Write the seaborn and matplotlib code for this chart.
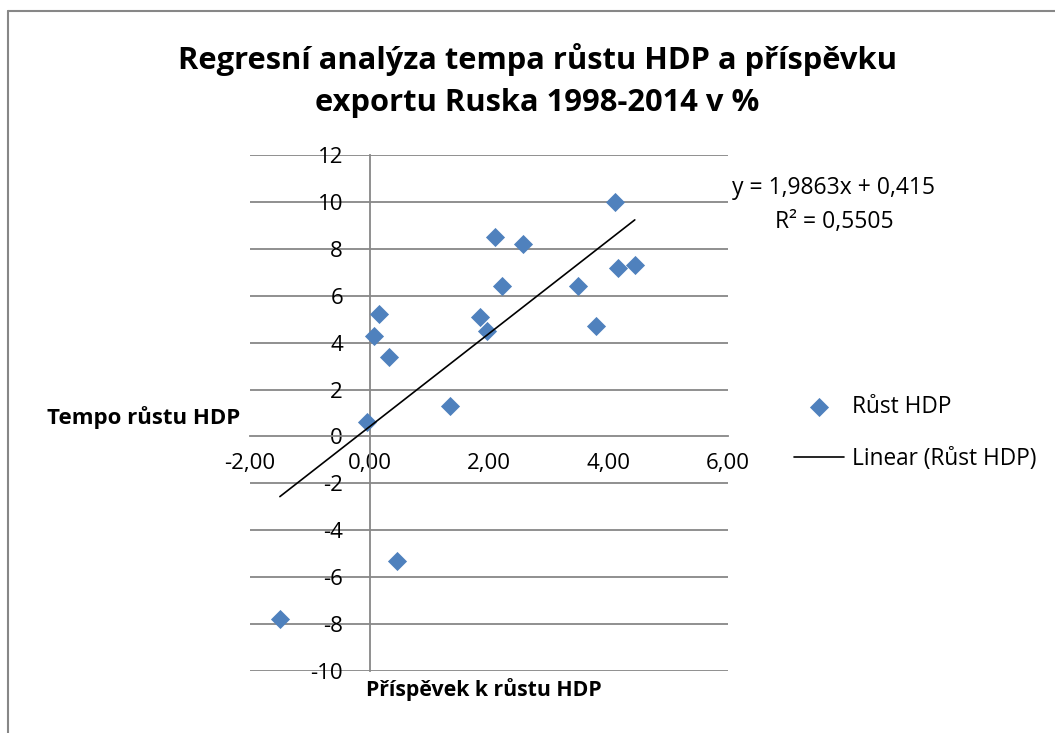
import numpy as np
import pandas as pd
import matplotlib
matplotlib.use("Agg")
import matplotlib.pyplot as plt
import seaborn as sns
from matplotlib.ticker import FuncFormatter

# data (17 years, 1998-2014)
prispevek = [-1.50, -0.04, 0.08, 0.16, 0.33, 0.46, 1.35, 1.85, 1.97,
             2.10, 2.22, 2.57, 3.49, 3.79, 4.11, 4.16, 4.44]
rust_hdp = [-7.8, 0.6, 4.3, 5.2, 3.4, -5.3, 1.3, 5.1, 4.5,
            8.5, 6.4, 8.2, 6.4, 4.7, 10.0, 7.2, 7.3]
slope = 1.9863
intercept = 0.415
r2 = 0.5505

x_ticks = [-2, 0, 2, 4, 6]
y_ticks = list(range(-10, 13, 2))

df = pd.DataFrame({"x": prispevek, "y": rust_hdp})
trend = pd.DataFrame({"x": [min(prispevek), max(prispevek)]})
trend["y"] = slope * trend["x"] + intercept

sns.set_style("white")
plt.rcParams["font.family"] = ["Open Sans", "DejaVu Sans"]
plt.rcParams["axes.unicode_minus"] = False
plt.rcParams["text.color"] = "black"

grey = "#878787"
blue = "#4F81BD"

fig = plt.figure(figsize=(10.55, 7.33), dpi=100)
ax = fig.add_axes([250 / 1055, 62 / 733, 478 / 1055, 516 / 733])

for v in y_ticks:
    if v != 0:
        ax.axhline(v, color=grey, lw=1.3, zorder=0)

sns.scatterplot(data=df, x="x", y="y", marker="D", s=95, color=blue,
                edgecolor=blue, linewidth=0, ax=ax, label="Růst HDP", zorder=3)
sns.lineplot(data=trend, x="x", y="y", color="black", lw=1.2, ax=ax,
             label="Linear (Růst HDP)", zorder=4)

ax.set_xlim(-2, 6)
ax.set_ylim(-10, 12)
ax.set_xticks(x_ticks)
ax.set_yticks(y_ticks)
ax.xaxis.set_major_formatter(FuncFormatter(lambda v, p: f"{v:.2f}".replace(".", ",")))
ax.yaxis.set_major_formatter(FuncFormatter(lambda v, p: f"{int(v)}"))

ax.spines["left"].set_position(("data", 0))
ax.spines["bottom"].set_position(("data", 0))
ax.spines["top"].set_visible(False)
ax.spines["right"].set_visible(False)
for s in ["left", "bottom"]:
    ax.spines[s].set_color(grey)
    ax.spines[s].set_linewidth(1.3)
ax.tick_params(axis="x", direction="out", length=6, width=1.3, color=grey,
               pad=6, labelsize=16, labelcolor="black")
ax.tick_params(axis="y", direction="out", length=5, width=1.3, color=grey,
               pad=14, labelsize=16, labelcolor="black")
ax.set_xlabel("")
ax.set_ylabel("")

leg = ax.legend(loc="center left", bbox_to_anchor=(774 / 1055, 1 - 433 / 733),
                bbox_transform=fig.transFigure, frameon=False, fontsize=16.3,
                handlelength=2.2, labelspacing=1.2, handletextpad=0.35)

fig.text(537 / 1055, 1 - 60 / 733, "Regresní analýza tempa růstu HDP a příspěvku",
         ha="center", va="center", fontsize=22.2, fontweight="bold")
fig.text(537 / 1055, 1 - 103 / 733, "exportu Ruska 1998-2014 v %",
         ha="center", va="center", fontsize=22.2, fontweight="bold")
fig.text(144 / 1055, 1 - 418 / 733, "Tempo růstu HDP", ha="center", va="center",
         fontsize=16, fontweight="bold")
fig.text(484 / 1055, 1 - 690 / 733, "Příspěvek k růstu HDP", ha="center", va="center",
         fontsize=15.3, fontweight="bold")
fig.text(834 / 1055, 1 - 188 / 733,
         f"y = {slope:.4f}x + {intercept:.3f}".replace(".", ","),
         ha="center", va="center", fontsize=16.5)
fig.text(834 / 1055, 1 - 222 / 733, f"R² = {r2:.4f}".replace(".", ","),
         ha="center", va="center", fontsize=16.5)

# outer chart frame
fig.add_artist(plt.Line2D([8 / 1055, 1], [1 - 10.5 / 733] * 2, color=grey, lw=1.5))
fig.add_artist(plt.Line2D([8 / 1055] * 2, [0, 1 - 10.5 / 733], color=grey, lw=1.5))

fig.savefig("out.png", dpi=100)
